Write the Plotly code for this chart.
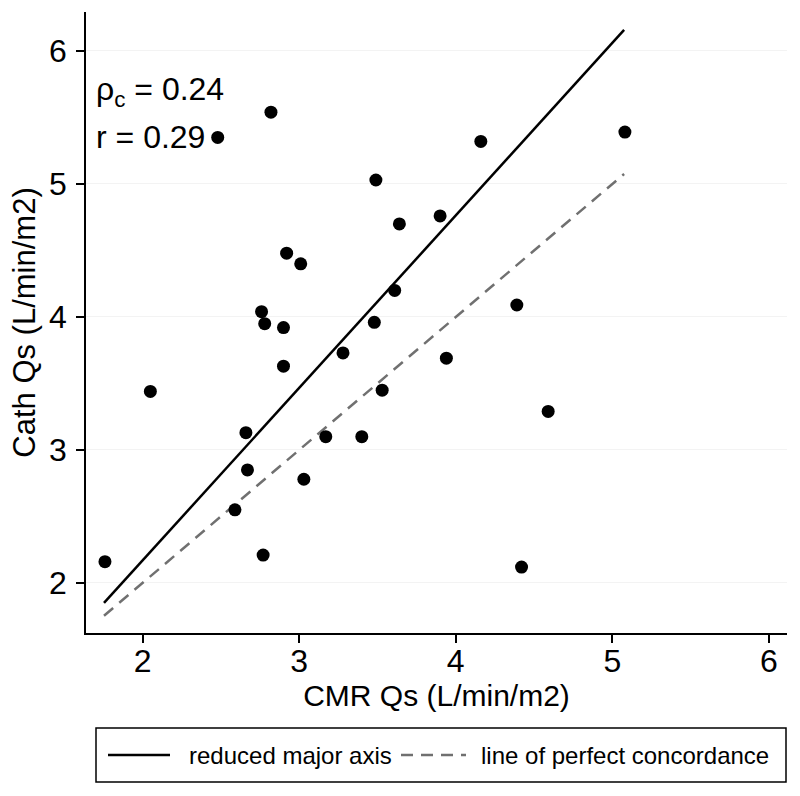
import plotly.graph_objects as go

# Data
cmr_qs = [1.76, 2.05, 2.48, 2.82, 2.92, 3.01, 2.76, 2.78, 2.90, 2.90,
          3.61, 3.48, 3.28, 3.94, 3.53, 2.66, 2.67, 3.17, 3.40, 3.03,
          5.08, 3.49, 4.16, 3.90, 3.64, 4.39, 4.59, 4.42, 2.59, 2.77]
cath_qs = [2.16, 3.44, 5.35, 5.54, 4.48, 4.40, 4.04, 3.95, 3.92, 3.63,
           4.20, 3.96, 3.73, 3.69, 3.45, 3.13, 2.85, 3.10, 3.10, 2.78,
           5.39, 5.03, 5.32, 4.76, 4.70, 4.09, 3.29, 2.12, 2.55, 2.21]

rma_x = [1.754, 5.075]
rma_y = [1.85, 6.158]
conc_x = [1.754, 5.075]
conc_y = [1.754, 5.075]

tick_vals = [2, 3, 4, 5, 6]
tick_text = ["2", "3", "4", "5", "6"]

FONT = "Liberation Sans, Arial, sans-serif"
GRAY = "#707070"

fig = go.Figure()
fig.add_trace(go.Scatter(x=rma_x, y=rma_y, mode="lines", name="reduced major axis",
                         line=dict(color="black", width=2.5), showlegend=False))
fig.add_trace(go.Scatter(x=conc_x, y=conc_y, mode="lines", name="line of perfect concordance",
                         line=dict(color=GRAY, width=2.5, dash="12px,8px"), showlegend=False))
fig.add_trace(go.Scatter(x=cmr_qs, y=cath_qs, mode="markers", name="data",
                         marker=dict(color="black", size=13), showlegend=False))

W, H = 800, 796
L, R, T, B = 86, 13, 12, 163
pw, ph = W - L - R, H - T - B

def px(xp):
    return (xp - L) / pw

def py(yp):
    return (H - B - yp) / ph

fig.update_layout(
    width=W, height=H,
    margin=dict(l=L, r=R, t=T, b=B),
    paper_bgcolor="white", plot_bgcolor="white",
    font=dict(family=FONT, color="black", size=28),
    xaxis=dict(range=[1.639, 6.115], tickvals=tick_vals, ticktext=tick_text, automargin=False,
               showgrid=False, zeroline=False, showline=True, linecolor="black", linewidth=1.5,
               ticks="outside", ticklen=8, tickwidth=1.5, tickcolor="black",
               ticklabelstandoff=-9,
               tickfont=dict(size=32, family=FONT),
               title=dict(text="CMR Qs (L/min/m2)", font=dict(size=30, family=FONT), standoff=0)),
    yaxis=dict(range=[1.624, 6.293], tickvals=tick_vals, ticktext=tick_text, automargin=False,
               showgrid=True, gridcolor="#f3f3f3", gridwidth=1, zeroline=False,
               showline=True, linecolor="black", linewidth=1.5,
               ticks="outside", ticklen=8, tickwidth=1.5, tickcolor="black",
               ticklabelstandoff=3,
               tickfont=dict(size=32, family=FONT),
               title=dict(text="Cath Qs (L/min/m2)", font=dict(size=31, family=FONT), standoff=4)),
    showlegend=False,
)

# correlation text
fig.add_annotation(xref="paper", yref="paper", x=px(94), y=py(91), xanchor="left", yanchor="middle",
                   text="ρ<sub>c</sub> = 0.24", showarrow=False, font=dict(size=32, family=FONT))
fig.add_annotation(xref="paper", yref="paper", x=px(94), y=py(137), xanchor="left", yanchor="middle",
                   text="r = 0.29", showarrow=False, font=dict(size=32, family=FONT))

# legend box drawn manually
fig.add_shape(type="rect", xref="paper", yref="paper", x0=px(96), x1=px(786), y0=py(782), y1=py(728),
              line=dict(color="black", width=1.5), fillcolor="white")
fig.add_shape(type="line", xref="paper", yref="paper", x0=px(108), x1=px(170), y0=py(755), y1=py(755),
              line=dict(color="black", width=2.5))
fig.add_shape(type="line", xref="paper", yref="paper", x0=px(401), x1=px(466), y0=py(755), y1=py(755),
              line=dict(color=GRAY, width=2.5, dash="12px,8px"))
fig.add_annotation(xref="paper", yref="paper", x=px(187), y=py(755), xanchor="left", yanchor="middle",
                   text="reduced major axis", showarrow=False, font=dict(size=24, family=FONT))
fig.add_annotation(xref="paper", yref="paper", x=px(479), y=py(755), xanchor="left", yanchor="middle",
                   text="line of perfect concordance", showarrow=False, font=dict(size=24, family=FONT))

fig.write_html("out.html", config={"displayModeBar": False},
               post_script="document.body.style.margin='0px';")
